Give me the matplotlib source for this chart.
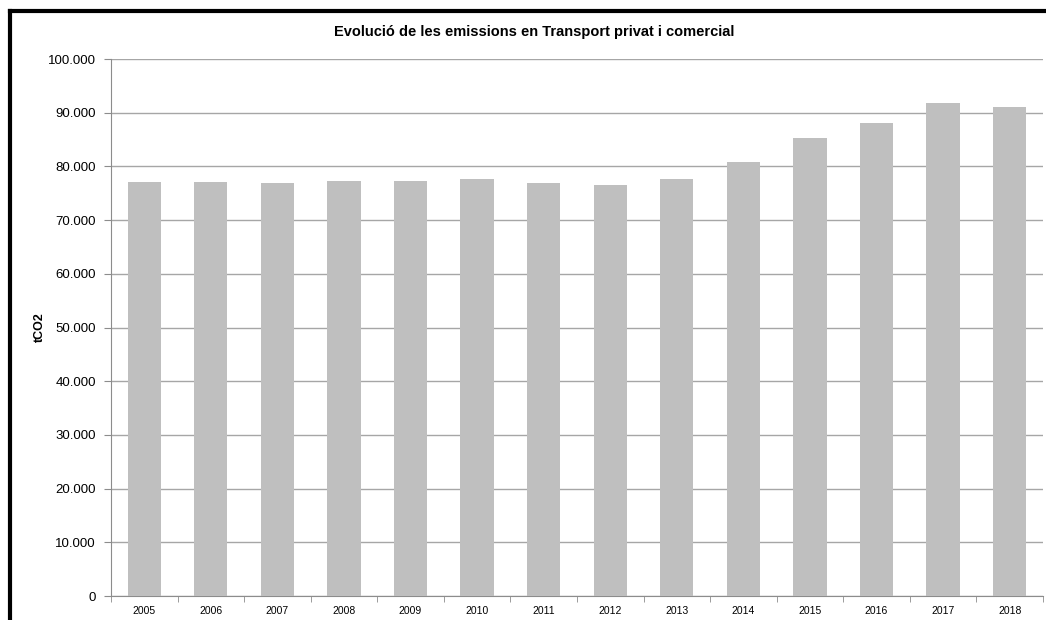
import numpy as np
import matplotlib.pyplot as plt
from matplotlib.lines import Line2D
from matplotlib.ticker import FuncFormatter

# values (tCO2)
years = ['2005', '2006', '2007', '2008', '2009', '2010', '2011',
         '2012', '2013', '2014', '2015', '2016', '2017', '2018']
emissions = [77040, 77040, 77000, 77220, 77220, 77600, 76850,
             76480, 77600, 80850, 85370, 88000, 91780, 91040]
yticks = [0, 10000, 20000, 30000, 40000, 50000, 60000, 70000, 80000, 90000, 100000]

plt.rcParams['font.family'] = ['Liberation Sans', 'DejaVu Sans']

fig = plt.figure(figsize=(10.46, 6.2), dpi=100)
ax = fig.add_axes([0.1061, 0.0387, 0.891, 0.8661])

x = np.arange(len(years))
ax.bar(x, emissions, width=0.5, color='#bfbfbf', zorder=3)

ax.set_xlim(-0.5, len(years) - 0.5)
ax.set_ylim(0, 100000)
ax.set_yticks(yticks)
ax.yaxis.set_major_formatter(FuncFormatter(lambda v, p: f'{int(v):,}'.replace(',', '.')))
ax.grid(axis='y', color='#a6a6a6', linewidth=1, zorder=0)

# category labels centred, tick marks on the boundaries
ax.set_xticks(x)
ax.set_xticklabels(years, fontsize=7.5)
ax.set_xticks(np.arange(-0.5, len(years)), minor=True)
ax.tick_params(axis='x', which='major', length=0, pad=7)
ax.tick_params(axis='x', which='minor', length=4, color='#8c8c8c')
ax.tick_params(axis='y', length=5, color='#8c8c8c', labelsize=9.5, pad=6)

for s in ['top', 'right']:
    ax.spines[s].set_visible(False)
for s in ['left', 'bottom']:
    ax.spines[s].set_color('#8c8c8c')

ax.set_ylabel('tCO2', fontsize=9, fontweight='bold')
ax.yaxis.set_label_coords(-0.07, 0.5)
fig.text(534 / 1046, 1 - 32 / 620, 'Evolució de les emissions en Transport privat i comercial',
         fontsize=10.5, fontweight='bold', ha='center', va='center')

# black frame (top and left edges visible in the original)
fig.add_artist(Line2D([10 / 1046, 1], [1 - 11 / 620, 1 - 11 / 620], color='black', linewidth=3,
                      transform=fig.transFigure))
fig.add_artist(Line2D([10 / 1046, 10 / 1046], [0, 1 - 11 / 620], color='black', linewidth=3,
                      transform=fig.transFigure))

plt.savefig('out.png', dpi=100)
